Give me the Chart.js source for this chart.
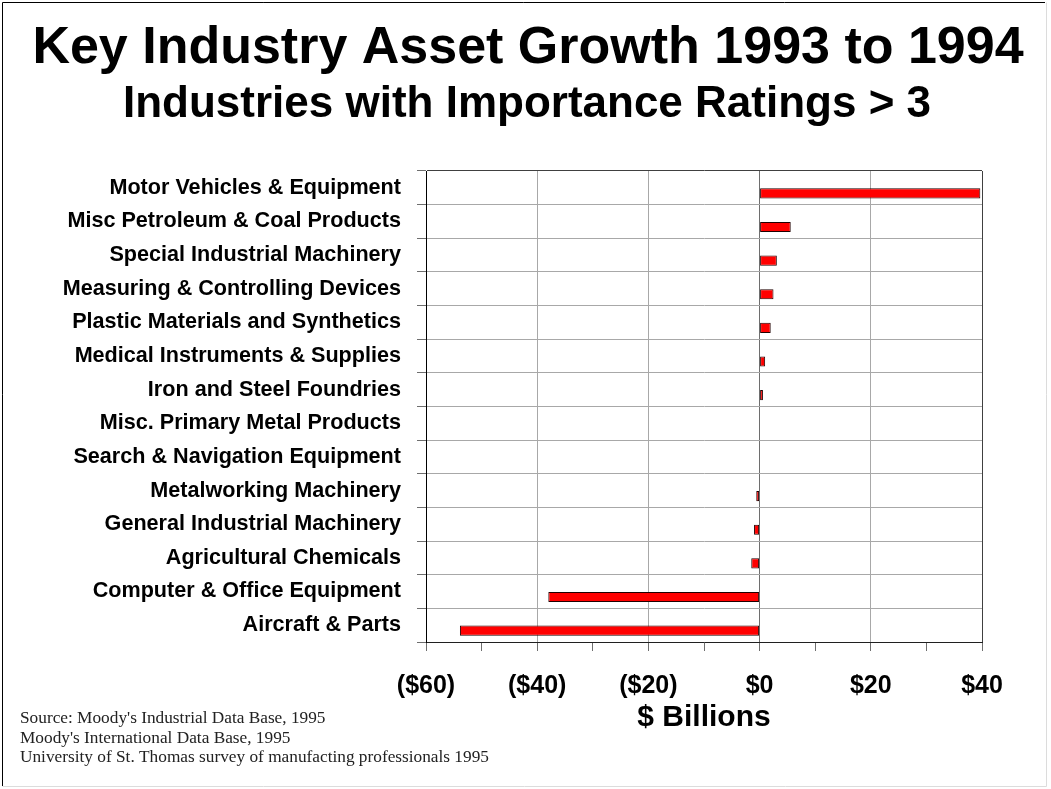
<!DOCTYPE html>
<html>
<head>
<meta charset="utf-8">
<title>Key Industry Asset Growth 1993 to 1994</title>
<script src="https://cdn.jsdelivr.net/npm/chart.js@4.4.1/dist/chart.umd.min.js"></script>
<style>
  html, body { margin: 0; padding: 0; background: #fff; }
  #wrap { position: relative; width: 1051px; height: 789px; }
</style>
</head>
<body>
<div id="wrap"><canvas id="asset-growth" width="1051" height="789"></canvas></div>
<script>
// Industries, top to bottom
const industries = [
  'Motor Vehicles & Equipment',
  'Misc Petroleum & Coal Products',
  'Special Industrial Machinery',
  'Measuring & Controlling Devices',
  'Plastic Materials and Synthetics',
  'Medical Instruments & Supplies',
  'Iron and Steel Foundries',
  'Misc. Primary Metal Products',
  'Search & Navigation Equipment',
  'Metalworking Machinery',
  'General Industrial Machinery',
  'Agricultural Chemicals',
  'Computer & Office Equipment',
  'Aircraft & Parts',
];

// Change in assets, $ billions
const assetChange = [39.7, 5.6, 3.1, 2.5, 2.0, 1.0, 0.6, 0, 0, -0.6, -1.0, -1.5, -38.0, -53.9];

// Labelled ticks on the value axis
const axisTicks = [-60, -40, -20, 0, 20, 40];
const axisTickLabels = ['($60)', '($40)', '($20)', '$0', '$20', '$40'];

const titleText = 'Key Industry Asset Growth 1993 to 1994';
const subtitleText = 'Industries with Importance Ratings > 3';
const sourceLines = [
  "Source: Moody's Industrial Data Base, 1995",
  "Moody's International Data Base, 1995",
  'University of St. Thomas survey of manufacting professionals 1995',
];

const sansFamily = '"Liberation Sans", Arial, Helvetica, sans-serif';
const serifFamily = '"Liberation Serif", "Times New Roman", serif';

const GRID = '#a8a8a8';
const DARK = '#404040';

// Titles, source notes and the picture frame
const decorations = {
  id: 'decorations',
  afterDraw(chart) {
    const { ctx, width, height } = chart;
    ctx.save();
    ctx.fillStyle = '#000';
    ctx.textAlign = 'center';
    ctx.textBaseline = 'alphabetic';
    ctx.font = `bold 52px ${sansFamily}`;
    ctx.fillText(titleText, 528, 63);
    ctx.font = `bold 44px ${sansFamily}`;
    ctx.fillText(subtitleText, 527, 117);

    ctx.textAlign = 'left';
    ctx.fillStyle = '#222';
    ctx.font = `17.3px ${serifFamily}`;
    sourceLines.forEach((line, i) => {
      ctx.fillText(line, 20, 723 + i * 19.5);
    });

    ctx.lineWidth = 1;
    ctx.strokeStyle = '#000';
    ctx.beginPath();
    ctx.moveTo(2.5, height - 3);
    ctx.lineTo(2.5, 2.5);
    ctx.lineTo(width - 6, 2.5);
    ctx.stroke();
    ctx.strokeStyle = '#dcdcdc';
    ctx.beginPath();
    ctx.moveTo(width - 4.5, 2.5);
    ctx.lineTo(width - 4.5, height - 2.5);
    ctx.lineTo(2.5, height - 2.5);
    ctx.stroke();
    ctx.restore();
  },
};

const whiteBackground = {
  id: 'whiteBackground',
  beforeDraw(chart) {
    const { ctx, width, height } = chart;
    ctx.save();
    ctx.fillStyle = '#fff';
    ctx.fillRect(0, 0, width, height);
    ctx.restore();
  },
};

function xGridColor(ctx) {
  const value = ctx.tick ? ctx.tick.value : null;
  if (value === 0) return '#6e6e6e';
  if (value === 40) return DARK;
  if (value !== null && value % 20 === 0) return GRID;
  return 'rgba(0,0,0,0)';
}

new Chart(document.getElementById('asset-growth'), {
  type: 'bar',
  data: {
    labels: industries,
    datasets: [
      // empty slot so the bars sit in the lower half of each row
      { label: '', data: [] },
      {
        label: 'Asset growth',
        data: assetChange,
        backgroundColor: '#ff0000',
        borderColor: '#200000',
        borderWidth: 1,
        borderSkipped: false,
      },
    ],
  },
  options: {
    indexAxis: 'y',
    responsive: false,
    animation: false,
    devicePixelRatio: 1,
    categoryPercentage: 0.655,
    barPercentage: 0.92,
    layout: { padding: { top: 171, right: 69, bottom: 0, left: 0 } },
    plugins: {
      legend: { display: false },
      tooltip: { enabled: false },
      title: { display: false },
    },
    scales: {
      x: {
        min: -60,
        max: 40,
        ticks: {
          stepSize: 10,
          autoSkip: false,
          maxRotation: 0,
          padding: 20,
          color: '#000',
          font: { family: sansFamily, size: 25, weight: 'bold' },
          callback: (value) => {
            const idx = axisTicks.indexOf(value);
            return idx === -1 ? '' : axisTickLabels[idx];
          },
        },
        grid: {
          color: xGridColor,
          tickColor: '#6e6e6e',
          tickLength: 9,
          lineWidth: 1,
        },
        border: { color: '#202020', width: 1 },
        title: {
          display: true,
          text: '$ Billions',
          color: '#000',
          font: { family: sansFamily, size: 30, weight: 'bold' },
          padding: { top: 0, bottom: 53 },
        },
        afterFit: (scale) => { scale.height = 147; },
      },
      y: {
        ticks: {
          padding: 16,
          autoSkip: false,
          color: '#000',
          font: { family: sansFamily, size: 21.6, weight: 'bold' },
        },
        grid: {
          color: (ctx) => (ctx.index === 0 ? DARK : GRID),
          tickColor: '#6e6e6e',
          tickLength: 9,
          lineWidth: 1,
        },
        border: { color: '#000', width: 1 },
        afterFit: (scale) => { scale.width = 426; },
      },
    },
  },
  plugins: [whiteBackground, decorations],
});
</script>
</body>
</html>
